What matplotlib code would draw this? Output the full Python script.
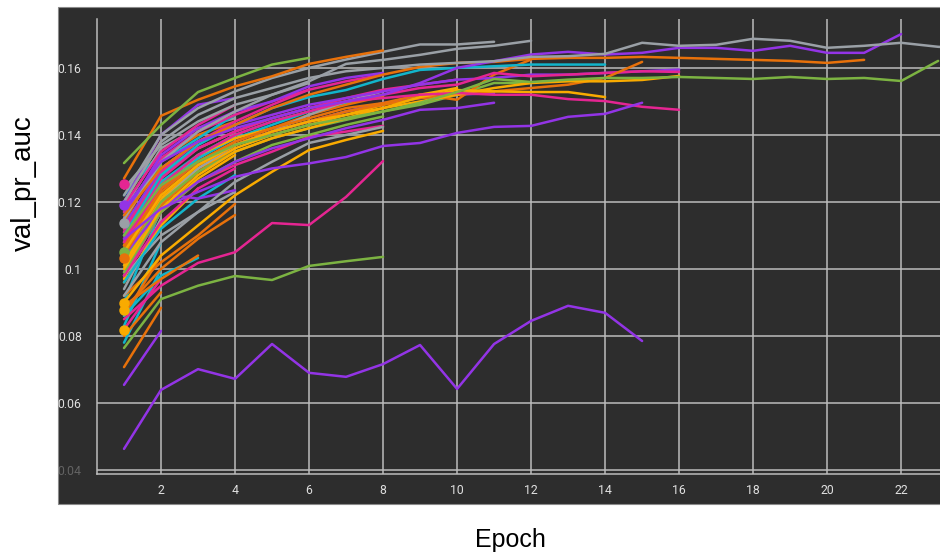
import matplotlib
matplotlib.use("Agg")
import matplotlib.pyplot as plt
from matplotlib.patches import Rectangle

GRAY = '#9aa0a6'
PURPLE = '#9334e6'
ORANGE = '#e8710a'
GREEN = '#7cb342'
CYAN = '#12b5cb'
PINK = '#e52592'
AMBER = '#f9ab00'

# val_pr_auc per epoch (epoch 1, 2, ...) for each run
gray_long = [0.120, 0.138, 0.146, 0.151, 0.154, 0.157, 0.159, 0.160, 0.161, 0.1615, 0.162, 0.1633,
             0.1635, 0.1642, 0.1675, 0.1666, 0.1669, 0.1687, 0.1681, 0.166, 0.1666, 0.1675, 0.1663, 0.1658]
purple_long = [0.118, 0.132, 0.138, 0.142, 0.145, 0.148, 0.150, 0.152, 0.1555, 0.160, 0.162, 0.164,
               0.1648, 0.164, 0.1645, 0.166, 0.166, 0.1651, 0.1666, 0.1645, 0.1645, 0.1701]
orange_long = [0.116, 0.130, 0.138, 0.143, 0.148, 0.152, 0.155, 0.158, 0.1603, 0.1615, 0.1618, 0.1627,
               0.163, 0.163, 0.1633, 0.163, 0.1627, 0.1624, 0.1621, 0.1615, 0.1624]
green_long = [0.110, 0.125, 0.132, 0.137, 0.140, 0.143, 0.145, 0.147, 0.1496, 0.1528, 0.1567, 0.1558,
              0.1565, 0.157, 0.157, 0.1573, 0.157, 0.1567, 0.1573, 0.1567, 0.157, 0.1561, 0.1621]
gray_11 = [0.122, 0.140, 0.148, 0.153, 0.157, 0.160, 0.1625, 0.1648, 0.167, 0.167, 0.1678]
gray_12 = [0.115, 0.132, 0.141, 0.147, 0.152, 0.156, 0.1612, 0.1624, 0.1639, 0.1657, 0.1666, 0.1681]
green_top = [0.1316, 0.143, 0.1528, 0.157, 0.161, 0.163]
orange_top = [0.127, 0.1457, 0.1505, 0.1545, 0.1575, 0.1612, 0.1633, 0.1652]
cyan_14 = [0.110, 0.128, 0.137, 0.143, 0.148, 0.1513, 0.1534, 0.1567, 0.1594, 0.160, 0.1605, 0.161,
           0.161, 0.161]
purple_15 = [0.109, 0.118, 0.123, 0.1275, 0.130, 0.1315, 0.1334, 0.1367, 0.1376, 0.1406, 0.1424,
             0.1427, 0.1454, 0.1463, 0.1496]
pink_16a = [0.112, 0.128, 0.136, 0.141, 0.145, 0.148, 0.150, 0.151, 0.152, 0.1525, 0.152, 0.152,
            0.1507, 0.1501, 0.1484, 0.1475]
amber_14 = [0.105, 0.122, 0.131, 0.137, 0.141, 0.144, 0.146, 0.148, 0.1513, 0.1534, 0.153, 0.1528,
            0.1528, 0.1513]
amber_16 = [0.100, 0.118, 0.128, 0.135, 0.139, 0.142, 0.145, 0.148, 0.150, 0.152, 0.154, 0.1555,
            0.156, 0.156, 0.1564, 0.1576]
orange_15 = [0.104, 0.122, 0.131, 0.137, 0.141, 0.144, 0.147, 0.149, 0.151, 0.152, 0.153, 0.154,
             0.155, 0.157, 0.1618]
pink_16b = [0.108, 0.125, 0.134, 0.140, 0.144, 0.147, 0.150, 0.152, 0.154, 0.155, 0.1585, 0.1575,
            0.158, 0.1585, 0.159, 0.1588]
purple_16 = [0.113, 0.130, 0.138, 0.143, 0.146, 0.149, 0.151, 0.153, 0.155, 0.1565, 0.157, 0.158,
             0.158, 0.1585, 0.159, 0.1595]
orange_12 = [0.107, 0.124, 0.132, 0.138, 0.142, 0.145, 0.148, 0.1495, 0.152, 0.1505, 0.158, 0.1625]
purple_11a = [0.104, 0.118, 0.126, 0.132, 0.136, 0.139, 0.142, 0.1445, 0.1475, 0.148, 0.1496]
purple_11b = [0.108, 0.124, 0.132, 0.137, 0.141, 0.144, 0.147, 0.1495, 0.151, 0.152, 0.1525]
green_12 = [0.103, 0.120, 0.129, 0.135, 0.139, 0.142, 0.1445, 0.147, 0.149, 0.152, 0.1555, 0.1555]
pink_low = [0.085, 0.095, 0.1018, 0.105, 0.1137, 0.1131, 0.1215, 0.1322]
green_low = [0.0764, 0.091, 0.095, 0.0979, 0.0967, 0.1009, 0.1023, 0.1036]
purple_bottom = [0.0463, 0.0639, 0.0701, 0.0672, 0.0776, 0.069, 0.0678, 0.0716, 0.0773, 0.0642,
                 0.0776, 0.0845, 0.089, 0.0869, 0.0785]
purple_2 = [0.0654, 0.0815]
orange_2 = [0.0707, 0.0884]

pink_8 = [0.098, 0.117, 0.126, 0.131, 0.135, 0.1394, 0.141, 0.1427]
gray_8 = [0.092, 0.108, 0.117, 0.126, 0.132, 0.1376, 0.140, 0.1424]
amber_8 = [0.090, 0.104, 0.113, 0.122, 0.129, 0.1355, 0.1385, 0.1412]
cyan_8 = [0.106, 0.126, 0.134, 0.140, 0.144, 0.147, 0.1495, 0.152]
amber_8b = [0.101, 0.120, 0.130, 0.136, 0.140, 0.143, 0.146, 0.149]
orange_8 = [0.106, 0.123, 0.132, 0.138, 0.142, 0.146, 0.149, 0.1515]
pink_8b = [0.111, 0.129, 0.138, 0.144, 0.149, 0.1535, 0.156, 0.158]
purple_8 = [0.116, 0.134, 0.142, 0.147, 0.150, 0.1545, 0.157, 0.1585]
green_8 = [0.099, 0.117, 0.126, 0.132, 0.137, 0.140, 0.143, 0.1455]
gray_8b = [0.103, 0.121, 0.130, 0.137, 0.141, 0.146, 0.150, 0.153]
amber_10 = [0.102, 0.121, 0.131, 0.137, 0.141, 0.144, 0.147, 0.149, 0.152, 0.154]
pink_10 = [0.109, 0.127, 0.136, 0.141, 0.145, 0.148, 0.151, 0.1535, 0.155, 0.1565]

gray_6 = [0.124, 0.137, 0.144, 0.149, 0.152, 0.1555]
pink_6 = [0.117, 0.133, 0.141, 0.146, 0.150, 0.1535]
cyan_6 = [0.104, 0.124, 0.133, 0.139, 0.143, 0.147]
amber_6 = [0.107, 0.125, 0.134, 0.139, 0.142, 0.145]

orange_4a = [0.092, 0.102, 0.110, 0.1194]
orange_4b = [0.088, 0.100, 0.109, 0.1161]
gray_4 = [0.098, 0.110, 0.117, 0.123]
cyan_4 = [0.096, 0.112, 0.121, 0.128]
purple_4 = [0.105, 0.1225, 0.121, 0.1235]
gray_4b = [0.118, 0.136, 0.142, 0.145]
purple_4b = [0.120, 0.140, 0.149, 0.151]
amber_4 = [0.112, 0.130, 0.138, 0.143]
orange_4c = [0.114, 0.133, 0.140, 0.144]
cyan_4b = [0.116, 0.132, 0.139, 0.146]
pink_4 = [0.119, 0.135, 0.143, 0.149]
green_4 = [0.113, 0.129, 0.136, 0.141]
gray_4c = [0.111, 0.126, 0.133, 0.1395]
amber_4b = [0.100, 0.117, 0.127, 0.134]
orange_4d = [0.102, 0.119, 0.129, 0.136]
pink_4b = [0.098, 0.114, 0.124, 0.130]

cyan_3 = [0.086, 0.098, 0.1033]
orange_3 = [0.089, 0.097, 0.104]
amber_3 = [0.096, 0.113, 0.124]
pink_3 = [0.110, 0.128, 0.136]
cyan_3b = [0.101, 0.119, 0.130]

cyan_2a = [0.078, 0.100]
cyan_2b = [0.083, 0.108]
cyan_2c = [0.090, 0.118]
orange_2b = [0.080, 0.093]
orange_2c = [0.086, 0.104]
pink_2 = [0.082, 0.097]
gray_2 = [0.094, 0.115]
amber_2 = [0.097, 0.121]
purple_2b = [0.099, 0.124]
pink_2b = [0.115, 0.134]
orange_2d = [0.120, 0.138]
cyan_2d = [0.122, 0.135]
green_2 = [0.117, 0.131]
amber_2b = [0.108, 0.127]

# runs with a single logged point (epoch 1)
dot_values = [0.1254, 0.1191, 0.1137, 0.1051, 0.1033, 0.0899, 0.0878, 0.0818]
dot_colors = [PINK, PURPLE, GRAY, GREEN, ORANGE, AMBER, AMBER, AMBER]

runs = [
    (CYAN, cyan_2a), (CYAN, cyan_2b), (CYAN, cyan_2c), (ORANGE, orange_2b), (ORANGE, orange_2c),
    (PINK, pink_2), (GRAY, gray_2), (AMBER, amber_2), (PURPLE, purple_2b), (PINK, pink_2b),
    (ORANGE, orange_2d), (CYAN, cyan_2d), (GREEN, green_2), (AMBER, amber_2b),
    (CYAN, cyan_3), (ORANGE, orange_3), (AMBER, amber_3), (PINK, pink_3), (CYAN, cyan_3b),
    (ORANGE, orange_4a), (ORANGE, orange_4b), (GRAY, gray_4), (CYAN, cyan_4), (PURPLE, purple_4),
    (GRAY, gray_4b), (PURPLE, purple_4b), (AMBER, amber_4), (ORANGE, orange_4c), (CYAN, cyan_4b),
    (PINK, pink_4), (GREEN, green_4), (GRAY, gray_4c), (AMBER, amber_4b), (ORANGE, orange_4d),
    (PINK, pink_4b),
    (GRAY, gray_6), (PINK, pink_6), (CYAN, cyan_6), (AMBER, amber_6),
    (PINK, pink_8), (GRAY, gray_8), (AMBER, amber_8), (CYAN, cyan_8), (AMBER, amber_8b),
    (ORANGE, orange_8), (PINK, pink_8b), (PURPLE, purple_8), (GREEN, green_8), (GRAY, gray_8b),
    (AMBER, amber_10), (PINK, pink_10),
    (GREEN, green_12), (PURPLE, purple_11a), (PURPLE, purple_11b), (ORANGE, orange_12),
    (PURPLE, purple_16), (PINK, pink_16b), (ORANGE, orange_15), (AMBER, amber_16), (AMBER, amber_14),
    (PINK, pink_16a), (PURPLE, purple_15), (CYAN, cyan_14), (GRAY, gray_12), (GRAY, gray_11),
    (GREEN, green_long), (ORANGE, orange_long), (PURPLE, purple_long), (GRAY, gray_long),
    (ORANGE, orange_top), (GREEN, green_top),
    (PINK, pink_low), (GREEN, green_low), (PURPLE, purple_bottom), (PURPLE, purple_2), (ORANGE, orange_2),
]

y_ticks = [0.04, 0.06, 0.08, 0.1, 0.12, 0.14, 0.16]
y_tick_labels = ['0.04', '0.06', '0.08', '0.1', '0.12', '0.14', '0.16']
x_ticks = [2, 4, 6, 8, 10, 12, 14, 16, 18, 20, 22]

BG = '#2d2d2d'
GRID = '#bcbcbc'

fig = plt.figure(figsize=(9.4, 5.56), dpi=100)
fig.patch.set_facecolor('white')

# dark card behind the plot
card = Rectangle((58 / 940, 1 - 504 / 556), 1 - 58 / 940 + 0.01, (504 - 7) / 556,
                 transform=fig.transFigure, facecolor=BG, edgecolor='#8a8a8a',
                 linewidth=0.8, zorder=-10)
fig.add_artist(card)

ax = fig.add_axes([97 / 940, 1 - 474 / 556, 1 - 97 / 940, (474 - 19) / 556])
ax.set_facecolor(BG)
ax.set_zorder(1)

for color, vals in runs:
    epochs = list(range(1, len(vals) + 1))
    ax.plot(epochs, vals, color=color, lw=1.8, solid_capstyle='round', zorder=3)

for v, c in zip(dot_values, dot_colors):
    ax.plot([1], [v], 'o', color=c, markersize=6.5, zorder=4)

ax.set_xlim(0.27, 23.05)
ax.set_ylim(0.0388, 0.1746)
ax.set_xticks(x_ticks)
ax.set_yticks(y_ticks)
ax.set_yticklabels(y_tick_labels)
ax.grid(True, color=GRID, linewidth=1.1, zorder=1)
ax.set_axisbelow(True)

for side in ['top', 'right']:
    ax.spines[side].set_visible(False)
for side in ['left', 'bottom']:
    ax.spines[side].set_color(GRID)
    ax.spines[side].set_linewidth(1.1)

ax.tick_params(axis='both', length=0, labelcolor='#e0e0e0', labelsize=8.8)
ax.tick_params(axis='y', pad=11)
ax.tick_params(axis='x', pad=7)
for lab in ax.get_xticklabels() + ax.get_yticklabels():
    lab.set_fontfamily('Roboto')
ax.get_yticklabels()[0].set_alpha(0.3)

fig.text(24 / 940, 1 - 183 / 556, 'val_pr_auc', rotation=90, ha='center', va='center',
         fontsize=20, family='Liberation Sans', color='black')
fig.text(510 / 940, 1 - 540 / 556, 'Epoch', ha='center', va='center',
         fontsize=18, family='Liberation Sans', color='black')

fig.savefig('out.png', dpi=100)
